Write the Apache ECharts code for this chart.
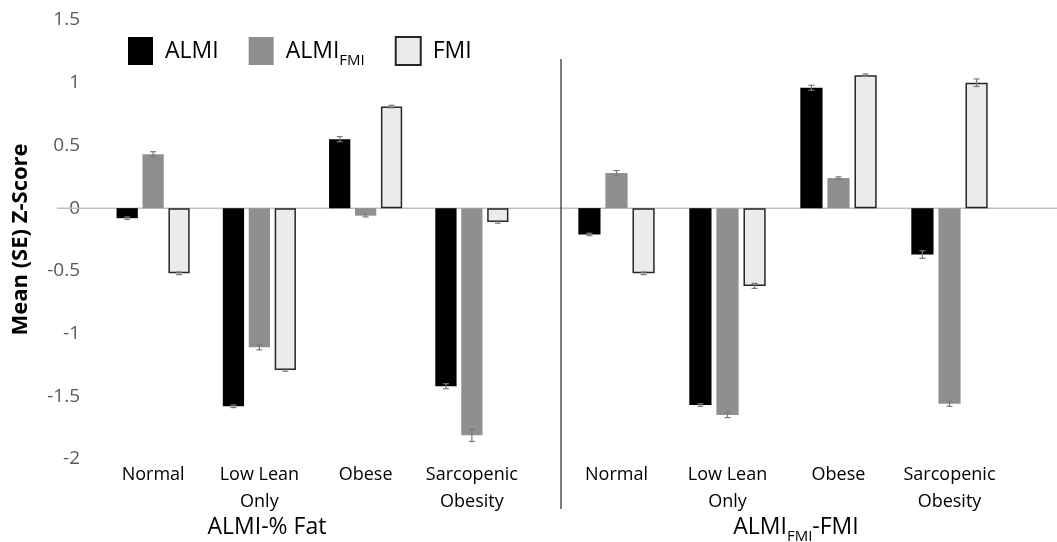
<!DOCTYPE html>
<html><head><meta charset="utf-8">
<script src="https://cdn.jsdelivr.net/npm/echarts@6/dist/echarts.min.js"></script>
<style>html,body{margin:0;padding:0;background:#fff}#c{width:1057px;height:542px}</style>
</head><body><div id="c"></div>
<script>
const categories = ['Normal', 'Low Lean\nOnly', 'Obese', 'Sarcopenic\nObesity'];
const panelTitles = ['ALMI-% Fat', 'ALMI_FMI-FMI'];
const seriesNames = ['ALMI', 'ALMI_FMI', 'FMI'];
// Panel 1: ALMI-% Fat
const p1ALMI = [-0.08, -1.58, 0.55, -1.42];
const p1ALMIFMI = [0.43, -1.11, -0.06, -1.81];
const p1FMI = [-0.52, -1.29, 0.81, -0.11];
const p1ALMI_se = [0.01, 0.01, 0.02, 0.02];
const p1ALMIFMI_se = [0.02, 0.02, 0.01, 0.05];
const p1FMI_se = [0.01, 0.01, 0.01, 0.01];
// Panel 2: ALMI_FMI-FMI
const p2ALMI = [-0.21, -1.57, 0.96, -0.37];
const p2ALMIFMI = [0.28, -1.65, 0.24, -1.56];
const p2FMI = [-0.52, -0.62, 1.06, 1.00];
const p2ALMI_se = [0.01, 0.01, 0.02, 0.03];
const p2ALMIFMI_se = [0.02, 0.02, 0.01, 0.02];
const p2FMI_se = [0.01, 0.02, 0.01, 0.03];
const yTicks = {min: -2, max: 1.5, interval: 0.5};

const FONT = '"Open Sans", "Noto Sans", sans-serif';
const colors = ['#000000', '#8f8f8f', '#ebebeb'];
const BAR_FRAC = 0.2, GAP = 0.22;

const chart = echarts.init(document.getElementById('c'));

function barSeries(gi, vals, idx) {
  return {
    type: 'bar', name: seriesNames[idx], xAxisIndex: gi, yAxisIndex: gi,
    data: vals, barWidth: (BAR_FRAC * 100) + '%', barGap: (GAP * 100) + '%',
    itemStyle: idx === 2 ? {color: colors[2], borderColor: '#262626', borderWidth: 1.5}
                         : {color: colors[idx]},
    emphasis: {disabled: true}, z: 2
  };
}
function errSeries(gi, valsArr, seArr) {
  const data = [];
  for (let s = 0; s < 3; s++)
    for (let c = 0; c < categories.length; c++)
      data.push([c, valsArr[s][c], seArr[s][c], s]);
  return {
    type: 'custom', xAxisIndex: gi, yAxisIndex: gi, data: data, z: 5, silent: true,
    renderItem: function (params, api) {
      const c = api.value(0), v = api.value(1), se = api.value(2), s = api.value(3);
      const band = api.size([1, 0])[0];
      const bw = band * BAR_FRAC, step = bw * (1 + GAP);
      const center = api.coord([c, v]);
      const x = center[0] + (s - 1) * step;
      const yTop = api.coord([c, v + se])[1], yBot = api.coord([c, v - se])[1];
      const hw = 3;
      const st = {stroke: '#7a7a7a', lineWidth: 1.2};
      return {type: 'group', children: [
        {type: 'line', shape: {x1: x, y1: yTop, x2: x, y2: yBot}, style: st},
        {type: 'line', shape: {x1: x - hw, y1: yTop, x2: x + hw, y2: yTop}, style: st},
        {type: 'line', shape: {x1: x - hw, y1: yBot, x2: x + hw, y2: yBot}, style: st}
      ]};
    }
  };
}

const grids = [
  {left: 100, width: 425, top: 20, bottom: 83},
  {left: 561, width: 444, top: 20, bottom: 83}
];
const xAxes = grids.map((g, i) => ({
  type: 'category', gridIndex: i, data: categories,
  axisLine: {show: false}, axisTick: {show: false},
  axisLabel: {color: '#000', fontFamily: FONT, fontSize: 18, lineHeight: 27, margin: 2, interval: 0}
}));
const yAxes = grids.map((g, i) => ({
  type: 'value', gridIndex: i, min: yTicks.min, max: yTicks.max, interval: yTicks.interval,
  axisLine: {show: false}, axisTick: {show: false}, splitLine: {show: false},
  axisLabel: {show: i === 0, color: '#595959', fontFamily: FONT, fontSize: 19, margin: 20},
  name: i === 0 ? 'Mean (SE) Z-Score' : '', nameLocation: 'middle', nameGap: 68,
  nameTextStyle: {fontFamily: FONT, fontSize: 22, fontWeight: 'bold', color: '#000'}
}));

const subRich = {
  b: {fontFamily: FONT, fontSize: 23, color: '#000', lineHeight: 34, verticalAlign: 'middle'},
  sub: {fontFamily: FONT, fontSize: 15, color: '#000', lineHeight: 15, verticalAlign: 'bottom'}
};
function richName(n) {
  const parts = n.split('_');
  if (parts.length === 1) return '{b|' + n + '}';
  const rest = parts[1].split('-');
  return '{b|' + parts[0] + '}{sub|' + rest[0] + '}' + (rest.length > 1 ? '{b|-' + rest.slice(1).join('-') + '}' : '');
}

const option = {
  animation: false,
  grid: grids,
  xAxis: xAxes,
  yAxis: yAxes,
  legend: {
    left: 123, top: 31, itemWidth: 25, itemHeight: 28, itemGap: 30, icon: 'rect',
    data: seriesNames,
    formatter: function (n) { return richName(n); },
    textStyle: {fontFamily: FONT, fontSize: 23, color: '#000', padding: [0, 0, 0, 7], rich: subRich},
    selectedMode: false
  },
  series: [
    barSeries(0, p1ALMI, 0), barSeries(0, p1ALMIFMI, 1), barSeries(0, p1FMI, 2),
    errSeries(0, [p1ALMI, p1ALMIFMI, p1FMI], [p1ALMI_se, p1ALMIFMI_se, p1FMI_se]),
    barSeries(1, p2ALMI, 0), barSeries(1, p2ALMIFMI, 1), barSeries(1, p2FMI, 2),
    errSeries(1, [p2ALMI, p2ALMIFMI, p2FMI], [p2ALMI_se, p2ALMIFMI_se, p2FMI_se])
  ]
};
chart.setOption(option);

// decorations: zero line across the plot, panel divider, panel titles
const y0 = chart.convertToPixel({yAxisIndex: 0}, 0);
const gridLeft2 = grids[1].left;
chart.setOption({
  graphic: [
    {type: 'line', z: 1, shape: {x1: 57, y1: y0, x2: 1057, y2: y0}, style: {stroke: '#bfbfbf', lineWidth: 1.5}},
    {type: 'line', z: 3, shape: {x1: gridLeft2, y1: 59, x2: gridLeft2, y2: 509}, style: {stroke: '#262626', lineWidth: 1.2}},
    {type: 'text', x: 267, y: 527, style: {text: richName(panelTitles[0]), rich: subRich, align: 'center', verticalAlign: 'middle'}},
    {type: 'text', x: 796, y: 527, style: {text: richName(panelTitles[1]), rich: subRich, align: 'center', verticalAlign: 'middle'}}
  ]
});
</script></body></html>
